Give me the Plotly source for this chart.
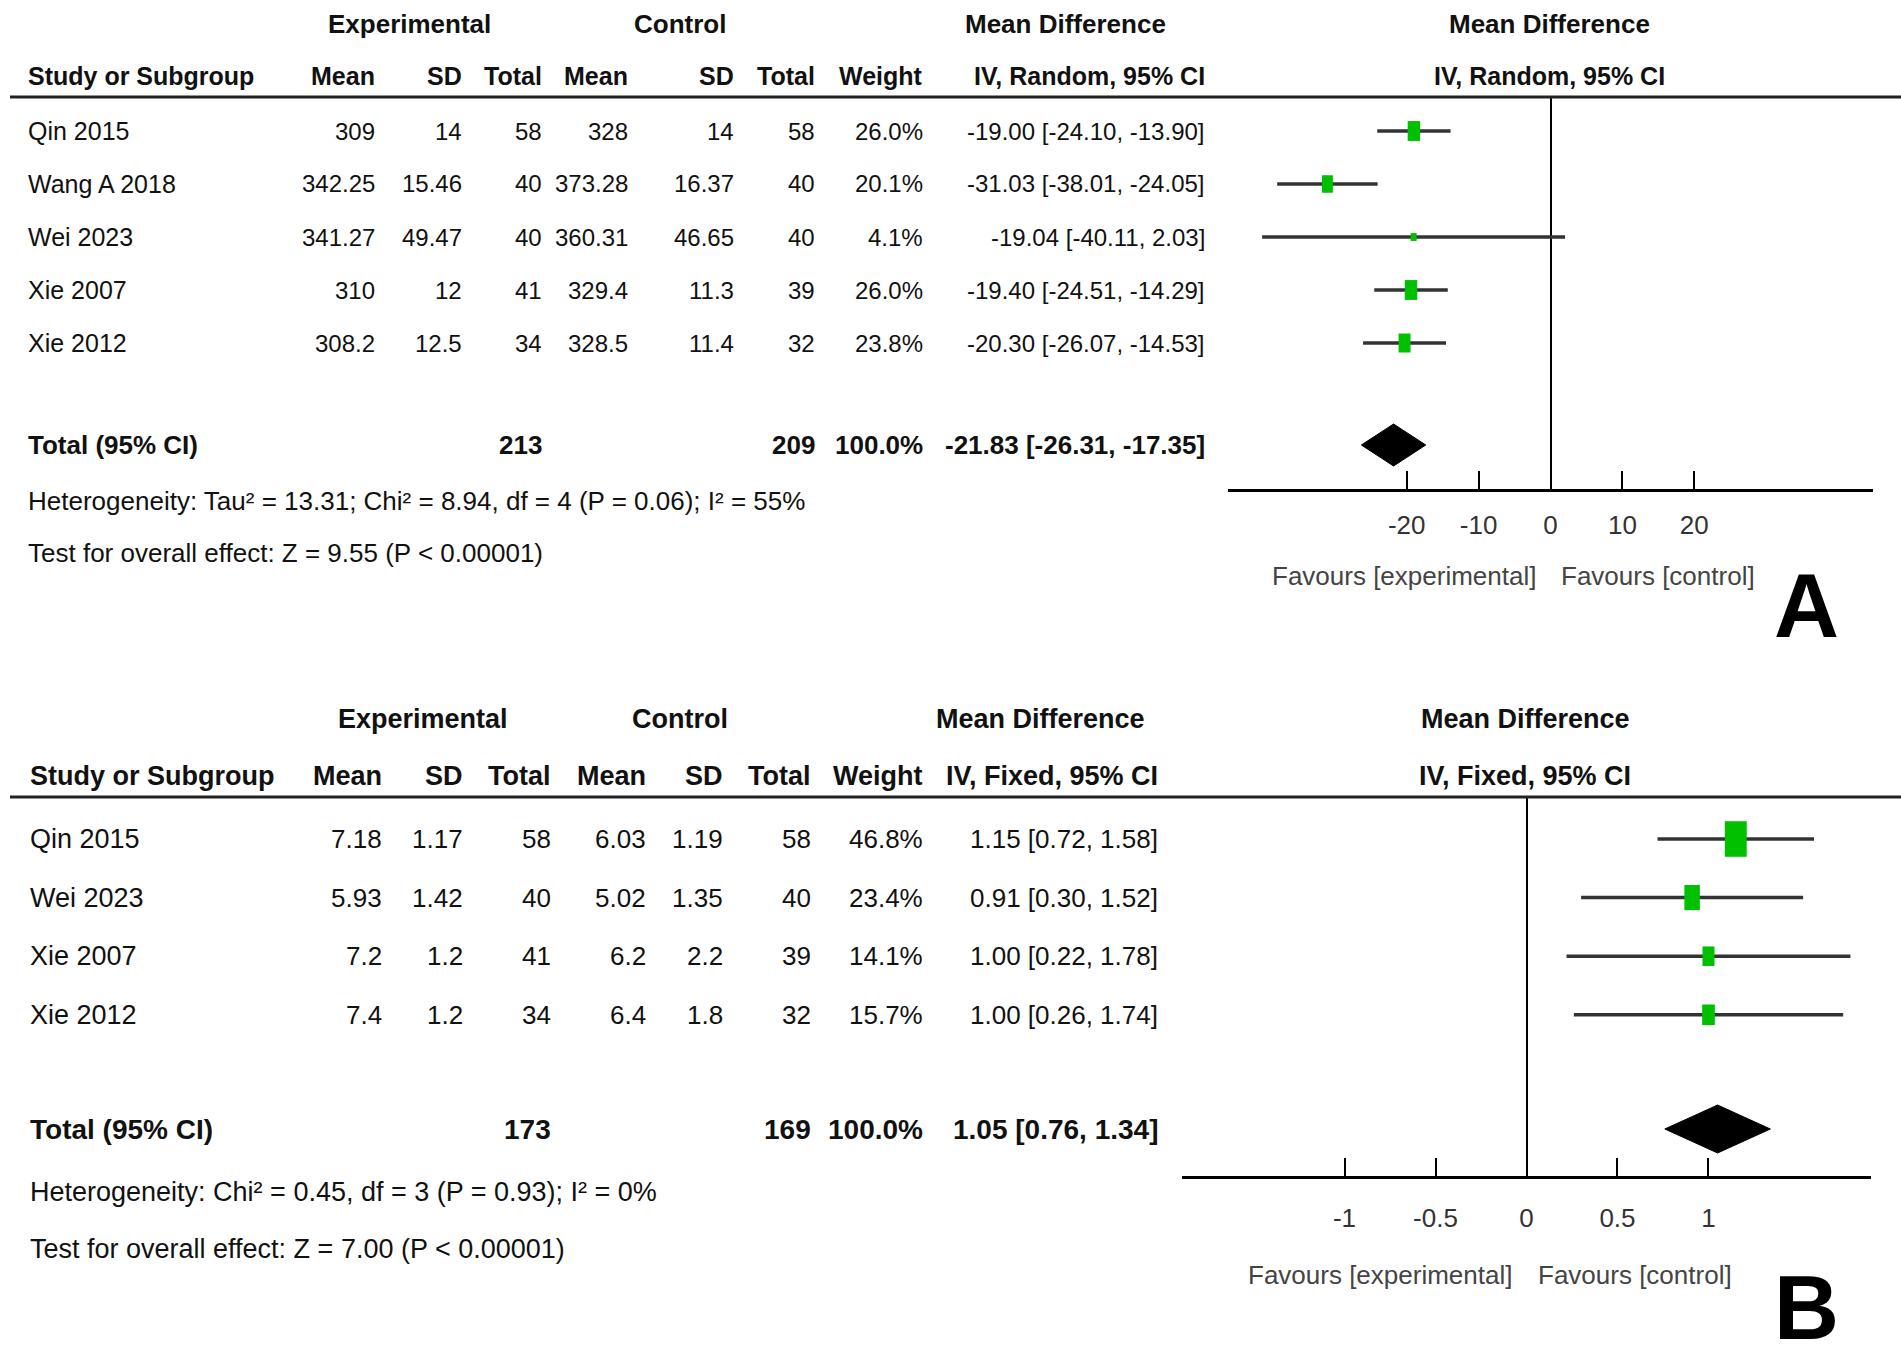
import math
import plotly.graph_objects as go

W, H = 1901, 1359
FONT = "Liberation Sans, Arial, sans-serif"
GREEN = "#00c000"

# ---- panel A data (IV, Random) ----
a_study = ["Qin 2015", "Wang A 2018", "Wei 2023", "Xie 2007", "Xie 2012"]
a_exp_mean = [309, 342.25, 341.27, 310, 308.2]
a_exp_sd = [14, 15.46, 49.47, 12, 12.5]
a_exp_n = [58, 40, 40, 41, 34]
a_ctl_mean = [328, 373.28, 360.31, 329.4, 328.5]
a_ctl_sd = [14, 16.37, 46.65, 11.3, 11.4]
a_ctl_n = [58, 40, 40, 39, 32]
a_weight = [26.0, 20.1, 4.1, 26.0, 23.8]
a_md = [-19.00, -31.03, -19.04, -19.40, -20.30]
a_lo = [-24.10, -38.01, -40.11, -24.51, -26.07]
a_hi = [-13.90, -24.05, 2.03, -14.29, -14.53]
a_total = dict(exp_n=213, ctl_n=209, weight=100.0, md=-21.83, lo=-26.31, hi=-17.35)
a_het = "Heterogeneity: Tau² = 13.31; Chi² = 8.94, df = 4 (P = 0.06); I² = 55%"
a_test = "Test for overall effect: Z = 9.55 (P < 0.00001)"
a_ticks = [-20, -10, 0, 10, 20]
a_ticklabels = ["-20", "-10", "0", "10", "20"]

# ---- panel B data (IV, Fixed) ----
b_study = ["Qin 2015", "Wei 2023", "Xie 2007", "Xie 2012"]
b_exp_mean = [7.18, 5.93, 7.2, 7.4]
b_exp_sd = [1.17, 1.42, 1.2, 1.2]
b_exp_n = [58, 40, 41, 34]
b_ctl_mean = [6.03, 5.02, 6.2, 6.4]
b_ctl_sd = [1.19, 1.35, 2.2, 1.8]
b_ctl_n = [58, 40, 39, 32]
b_weight = [46.8, 23.4, 14.1, 15.7]
b_md = [1.15, 0.91, 1.00, 1.00]
b_lo = [0.72, 0.30, 0.22, 0.26]
b_hi = [1.58, 1.52, 1.78, 1.74]
b_total = dict(exp_n=173, ctl_n=169, weight=100.0, md=1.05, lo=0.76, hi=1.34)
b_het = "Heterogeneity: Chi² = 0.45, df = 3 (P = 0.93); I² = 0%"
b_test = "Test for overall effect: Z = 7.00 (P < 0.00001)"
b_ticks = [-1, -0.5, 0, 0.5, 1]
b_ticklabels = ["-1", "-0.5", "0", "0.5", "1"]

panels = [
    dict(label="A", model="IV, Random, 95% CI", xa="x", ya="y",
         study=a_study, cols=[a_exp_mean, a_exp_sd, a_exp_n, a_ctl_mean, a_ctl_sd, a_ctl_n],
         weight=a_weight, md=a_md, lo=a_lo, hi=a_hi, total=a_total, het=a_het, test=a_test,
         ticks=a_ticks, ticklabels=a_ticklabels,
         # layout in pixels
         title_y=24, head_y=76, line_y=97, row0=131, step=53, total_y=445,
         het_y=501, test_y=553, axis_y=489, fav_y=576, letter_y=606, letter_anchor="middle",
         study_x=27, col_x=[376, 463, 543, 629, 735, 816, 924, 1206],
         exp_x=409, ctl_x=680, md_x=1065, plot_x=1549,
         dom=[1228, 1873], xr=44.86, fav_l=1537, fav_r=1560, standoff=11,
         fs=dict(title=26, head=25, name=25, num=24, total=26, note=26),
         kh=3.9, kw=2.45, dh=21),
    dict(label="B", model="IV, Fixed, 95% CI", xa="x2", ya="y2",
         study=b_study, cols=[b_exp_mean, b_exp_sd, b_exp_n, b_ctl_mean, b_ctl_sd, b_ctl_n],
         weight=b_weight, md=b_md, lo=b_lo, hi=b_hi, total=b_total, het=b_het, test=b_test,
         ticks=b_ticks, ticklabels=b_ticklabels,
         title_y=719, head_y=776, line_y=797, row0=839, step=58.6, total_y=1129,
         het_y=1192, test_y=1249, axis_y=1176, fav_y=1275, letter_y=1359, letter_anchor="bottom",
         study_x=29, col_x=[383, 464, 552, 647, 724, 812, 924, 1159],
         exp_x=423, ctl_x=680, md_x=1040, plot_x=1525,
         dom=[1182, 1871], xr=1.893, fav_l=1513, fav_r=1537, standoff=17,
         fs=dict(title=27, head=27, name=27, num=26, total=28, note=27),
         kh=5.2, kw=3.2, dh=24),
]

fig = go.Figure()
annotations = []
shapes = []


def txt(x, y, s, anchor="left", bold=False, size=24, color="#111", yanchor="middle"):
    annotations.append(dict(
        x=x / W, xref="paper", y=1 - y / H, yref="paper", text=f"<b>{s}</b>" if bold else s,
        showarrow=False, xanchor=anchor, yanchor=yanchor, borderpad=0,
        font=dict(family=FONT, size=size, color=color)))


def ci(md, lo, hi):
    return f"{md:.2f} [{lo:.2f}, {hi:.2f}]"


for p in panels:
    ya = p["ya"]
    fs = p["fs"]
    rows = [p["row0"] + i * p["step"] for i in range(len(p["study"]))]

    # header
    txt(p["exp_x"], p["title_y"], "Experimental", "center", True, fs["title"])
    txt(p["ctl_x"], p["title_y"], "Control", "center", True, fs["title"])
    txt(p["md_x"], p["title_y"], "Mean Difference", "center", True, fs["title"])
    txt(p["plot_x"], p["title_y"], "Mean Difference", "center", True, fs["title"])
    txt(p["study_x"], p["head_y"], "Study or Subgroup", "left", True, fs["head"])
    for x, h in zip(p["col_x"], ["Mean", "SD", "Total", "Mean", "SD", "Total", "Weight", p["model"]]):
        txt(x, p["head_y"], h, "right", True, fs["head"])
    txt(p["plot_x"], p["head_y"], p["model"], "center", True, fs["head"])
    shapes.append(dict(type="line", xref="paper", x0=10 / W, x1=1, yref="paper",
                       y0=1 - p["line_y"] / H, y1=1 - p["line_y"] / H,
                       line=dict(color="#222", width=3)))

    # study rows
    for i, y in enumerate(rows):
        txt(p["study_x"], y, p["study"][i], size=fs["name"])
        vals = [str(c[i]) for c in p["cols"]]
        vals += [f"{p['weight'][i]:.1f}%", ci(p["md"][i], p["lo"][i], p["hi"][i])]
        for x, v in zip(p["col_x"], vals):
            txt(x, y, v, "right", size=fs["num"])

    # total row
    t = p["total"]
    txt(p["study_x"], p["total_y"], "Total (95% CI)", "left", True, fs["total"])
    txt(p["col_x"][2], p["total_y"], str(t["exp_n"]), "right", True, fs["total"])
    txt(p["col_x"][5], p["total_y"], str(t["ctl_n"]), "right", True, fs["total"])
    txt(p["col_x"][6], p["total_y"], f"{t['weight']:.1f}%", "right", True, fs["total"])
    txt(p["col_x"][7], p["total_y"], ci(t["md"], t["lo"], t["hi"]), "right", True, fs["total"])
    txt(p["study_x"], p["het_y"], p["het"], size=fs["note"])
    txt(p["study_x"], p["test_y"], p["test"], size=fs["note"])

    # favours + panel letter
    txt(p["fav_l"], p["fav_y"], "Favours [experimental]", "right", size=26, color="#444")
    txt(p["fav_r"], p["fav_y"], "Favours [control]", "left", size=26, color="#444")
    txt(1806, p["letter_y"], p["label"], "center", True, 90, "black", p["letter_anchor"])

    # confidence intervals
    xs, ys = [], []
    for i, y in enumerate(rows):
        xs += [p["lo"][i], p["hi"][i], None]
        ys += [y, y, None]
    fig.add_trace(go.Scatter(x=xs, y=ys, xaxis=p["xa"], yaxis=ya, mode="lines",
                             line=dict(color="#333", width=3.5), hoverinfo="skip", showlegend=False))

    # weight squares
    for i, y in enumerate(rows):
        s = math.sqrt(p["weight"][i])
        hw = max(p["kw"] * s, 6) / 2
        hh = max(p["kh"] * s, 7) / 2
        shapes.append(dict(type="rect", xref=p["xa"], yref=ya, xsizemode="pixel", ysizemode="pixel",
                           xanchor=p["md"][i], yanchor=y, x0=-hw, x1=hw, y0=-hh, y1=hh,
                           fillcolor=GREEN, line=dict(width=0)))

    # pooled diamond
    ty, dh = p["total_y"], p["dh"]
    fig.add_trace(go.Scatter(x=[t["lo"], t["md"], t["hi"], t["md"], t["lo"]],
                             y=[ty, ty - dh, ty, ty + dh, ty], xaxis=p["xa"], yaxis=ya,
                             mode="lines", fill="toself", fillcolor="black",
                             line=dict(color="black", width=1), hoverinfo="skip", showlegend=False))

xaxis_common = dict(showgrid=False, zeroline=True, zerolinecolor="black", zerolinewidth=1.5,
                    showline=True, linecolor="black", linewidth=3, ticks="inside", ticklen=18,
                    tickwidth=2, tickcolor="black",
                    tickfont=dict(family=FONT, size=26, color="#333"), fixedrange=True)

pA, pB = panels
fig.update_layout(
    width=W, height=H, margin=dict(l=0, r=0, t=0, b=0),
    paper_bgcolor="white", plot_bgcolor="white", showlegend=False,
    annotations=annotations, shapes=shapes,
    xaxis=dict(domain=[pA["dom"][0] / W, pA["dom"][1] / W], range=[-pA["xr"], pA["xr"]],
               tickvals=pA["ticks"], ticktext=pA["ticklabels"], anchor="y",
               ticklabelstandoff=pA["standoff"], **xaxis_common),
    yaxis=dict(domain=[1 - pA["axis_y"] / H, 1 - pA["line_y"] / H], range=[pA["axis_y"], pA["line_y"]],
               visible=False, fixedrange=True),
    xaxis2=dict(domain=[pB["dom"][0] / W, pB["dom"][1] / W], range=[-pB["xr"], pB["xr"]],
                tickvals=pB["ticks"], ticktext=pB["ticklabels"], anchor="y2",
                ticklabelstandoff=pB["standoff"], **xaxis_common),
    yaxis2=dict(domain=[1 - pB["axis_y"] / H, 1 - pB["line_y"] / H], range=[pB["axis_y"], pB["line_y"]],
                visible=False, fixedrange=True),
)

fig.write_html("out.html", config={"displayModeBar": False},
               post_script="document.body.style.margin = '0';")
